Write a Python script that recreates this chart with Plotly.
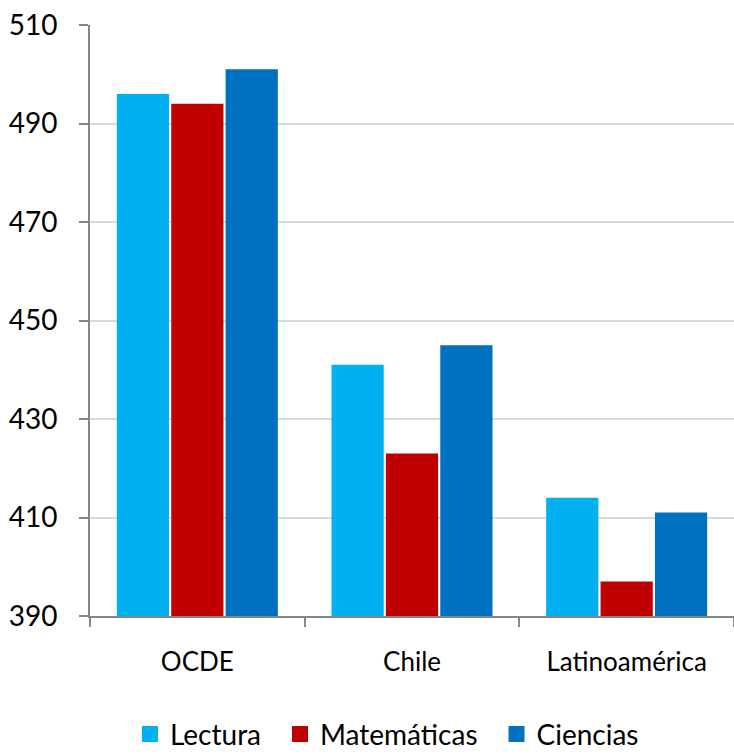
import plotly.graph_objects as go

categories = ["OCDE", "Chile", "Latinoamérica"]
lectura = [496, 441, 414]
matematicas = [494, 423, 397]
ciencias = [501, 445, 411]
y_ticks = [390, 410, 430, 450, 470, 490, 510]
y_min = 390

series = [
    ("Lectura", lectura, "#00B0F0"),
    ("Matemáticas", matematicas, "#C00000"),
    ("Ciencias", ciencias, "#0070C0"),
]

fig = go.Figure()
for name, vals, col in series:
    fig.add_trace(go.Bar(
        x=categories, y=[v - y_min for v in vals], base=y_min, name=name,
        marker=dict(color=col, line=dict(width=0)), showlegend=False,
    ))
# legend entries with larger square swatches
for name, vals, col in series:
    fig.add_trace(go.Scatter(
        x=[None], y=[None], mode="markers", name=name + "\u2002",
        marker=dict(symbol="square", size=19, color=col),
    ))

fig.update_layout(
    width=734, height=754,
    margin=dict(l=90, r=0, t=25, b=138),
    paper_bgcolor="white", plot_bgcolor="white",
    barmode="group", bargap=0.24, bargroupgap=0.04,
    font=dict(family="Lato, 'Open Sans', sans-serif", size=26, color="#000000"),
    showlegend=True,
    legend=dict(orientation="h", x=0.472, xanchor="center",
                yref="container", y=0.026, yanchor="middle",
                font=dict(size=28), itemwidth=30, traceorder="normal",
                tracegroupgap=0, itemsizing="trace"),
    xaxis=dict(showline=True, linecolor="#868686", linewidth=2,
               ticks="outside", tickson="boundaries", ticklen=9,
               tickcolor="#868686", tickwidth=2,
               tickfont=dict(size=26), ticklabelstandoff=22,
               showgrid=False, automargin=False),
    yaxis=dict(range=[390, 510], tickvals=y_ticks, showgrid=True,
               gridcolor="#d9d9d9", gridwidth=2, showline=True,
               linecolor="#868686", linewidth=2, ticks="outside",
               ticklen=9, tickcolor="#868686", tickwidth=2,
               tickfont=dict(size=28), ticklabelstandoff=16,
               zeroline=False, automargin=False),
)
fig.write_html("out.html", config={"displayModeBar": False},
               post_script="document.body.style.margin='0';document.body.style.padding='0';")
